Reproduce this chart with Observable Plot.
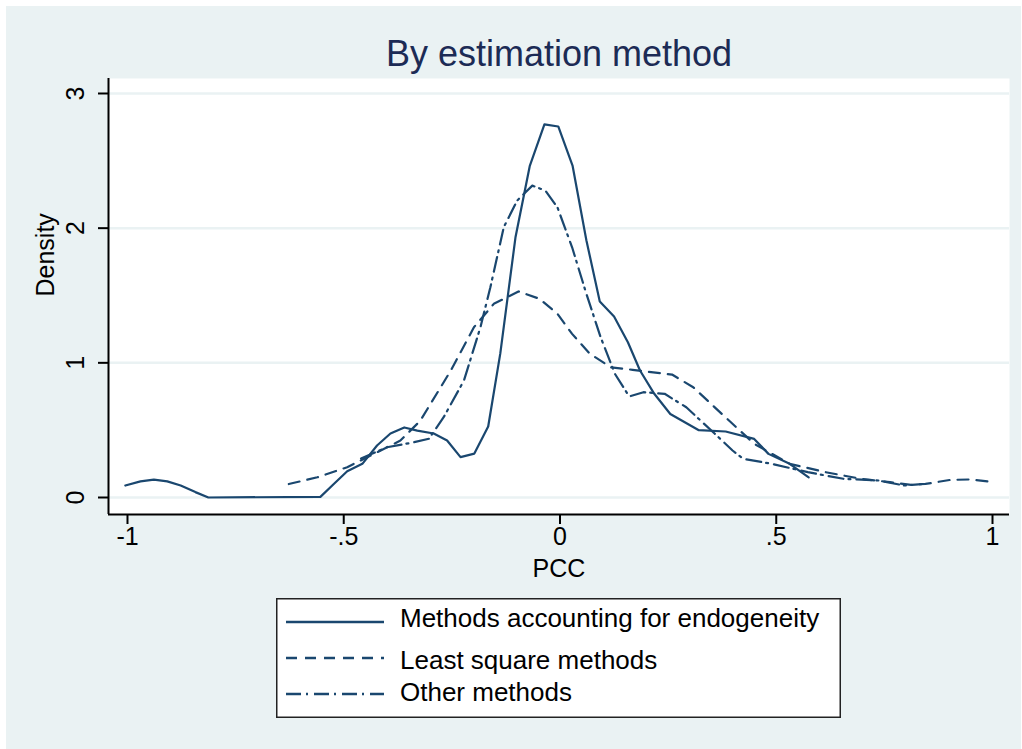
<!DOCTYPE html>
<html>
<head>
<meta charset="utf-8">
<script src="https://cdn.jsdelivr.net/npm/d3@7"></script>
<script src="https://cdn.jsdelivr.net/npm/@observablehq/plot@0.6"></script>
<style>
  html, body { margin: 0; padding: 0; background: #ffffff; }
  #page { position: relative; width: 1022px; height: 749px; overflow: hidden; font-family: "Liberation Sans", Arial, sans-serif; }
  #bg { position: absolute; left: 6px; top: 6px; width: 1015px; height: 743px; background: #eaf2f3; }
  #chart { position: absolute; left: 0; top: 0; }
  #legend { position: absolute; left: 276px; top: 598px; }
</style>
</head>
<body>
<div id="page">
  <div id="bg"></div>
  <div id="chart"></div>
  <div id="legend"></div>
</div>
<script>
// ---- Data ----
const seriesNames = ["Methods accounting for endogeneity", "Least square methods", "Other methods"];

const endoX = [-1.005,-0.97,-0.939,-0.908,-0.877,-0.843,-0.813,-0.554,-0.523,-0.492,-0.457,-0.423,-0.392,-0.36,-0.33,-0.292,-0.261,-0.23,-0.198,-0.166,-0.138,-0.103,-0.07,-0.036,-0.004,0.029,0.061,0.092,0.125,0.157,0.185,0.218,0.255,0.321,0.383,0.449,0.482,0.531,0.575];
const endoY = [0.089,0.12,0.133,0.12,0.089,0.04,0.0,0.005,0.1,0.195,0.25,0.386,0.475,0.52,0.497,0.475,0.423,0.3,0.326,0.527,1.07,1.93,2.46,2.77,2.755,2.465,1.91,1.455,1.344,1.153,0.943,0.77,0.62,0.50,0.49,0.435,0.324,0.25,0.15];

const lsX = [-0.627,-0.561,-0.492,-0.43,-0.369,-0.323,-0.253,-0.199,-0.153,-0.096,-0.047,-0.006,0.028,0.069,0.118,0.168,0.259,0.308,0.374,0.449,0.531,0.614,0.696,0.763,0.812,0.845,0.903,0.952,1.002];
const lsY = [0.1,0.15,0.225,0.324,0.423,0.57,0.94,1.264,1.438,1.53,1.475,1.364,1.215,1.067,0.967,0.948,0.913,0.819,0.621,0.399,0.25,0.188,0.139,0.114,0.094,0.101,0.131,0.134,0.114];

const otherX = [-0.46,-0.4,-0.338,-0.303,-0.269,-0.222,-0.184,-0.161,-0.13,-0.099,-0.064,-0.034,-0.006,0.028,0.061,0.094,0.127,0.16,0.193,0.242,0.292,0.358,0.399,0.424,0.49,0.573,0.655,0.738,0.796,0.836];
const otherY = [0.29,0.373,0.41,0.436,0.596,0.869,1.264,1.561,2.007,2.205,2.316,2.279,2.155,1.858,1.512,1.19,0.918,0.75,0.782,0.77,0.67,0.473,0.349,0.287,0.25,0.188,0.139,0.126,0.089,0.1];

const xTicks = [-1, -0.5, 0, 0.5, 1];
const xTickLabels = ["-1", "-.5", "0", ".5", "1"];
const yTicks = [0, 1, 2, 3];
const yTickLabels = ["0", "1", "2", "3"];

const titleText = "By estimation method";
const xLabel = "PCC";
const yLabel = "Density";

// ---- Styling ----
const lineColor = "#1a476f";
const dashes = ["none", "11,8", "15,5,2,6"];
const font = "'Liberation Sans', Arial, sans-serif";

const toRows = (xs, ys, s) => xs.map((x, i) => ({x, y: ys[i], series: s}));
const endo = toRows(endoX, endoY, seriesNames[0]);
const ls = toRows(lsX, lsY, seriesNames[1]);
const other = toRows(otherX, otherY, seriesNames[2]);

const xDomain = [-1.0439, 1.0393];
const yDomain = [-0.1262, 3.1113];

const chart = Plot.plot({
  width: 1022,
  height: 590,
  marginTop: 78,
  marginBottom: 76,
  marginLeft: 108,
  marginRight: 13,
  style: {background: "transparent", fontFamily: font, fontSize: "25px", color: "#000", overflow: "visible"},
  x: {domain: xDomain},
  y: {domain: yDomain},
  marks: [
    Plot.frame({fill: "white", stroke: null}),
    Plot.ruleY(yTicks, {stroke: "#eaf2f3", strokeWidth: 2.5}),
    Plot.line(endo, {x: "x", y: "y", stroke: lineColor, strokeWidth: 2.2, strokeDasharray: dashes[0]}),
    Plot.line(ls, {x: "x", y: "y", stroke: lineColor, strokeWidth: 2.2, strokeDasharray: dashes[1]}),
    Plot.line(other, {x: "x", y: "y", stroke: lineColor, strokeWidth: 2.2, strokeDasharray: dashes[2]}),
    Plot.ruleX([xDomain[0]], {stroke: "#000", strokeWidth: 2}),
    Plot.ruleY([yDomain[0]], {stroke: "#000", strokeWidth: 2}),
    Plot.axisX({ticks: xTicks, tickFormat: d => xTickLabels[xTicks.indexOf(d)], tickSize: 10, tickPadding: 3, strokeWidth: 2, label: null, fontSize: 25}),
    Plot.axisY({ticks: yTicks, tickFormat: d => yTickLabels[yTicks.indexOf(d)], tickSize: 10, tickPadding: 15, tickRotate: -90, strokeWidth: 2, label: null, fontSize: 25}),
    Plot.text([titleText], {frameAnchor: "top", dy: -13, lineAnchor: "bottom", fontSize: 36, fill: "#1c2b55"}),
    Plot.text([xLabel], {frameAnchor: "bottom", dy: 62, lineAnchor: "bottom", fontSize: 25, fill: "#000"}),
    Plot.text([yLabel], {frameAnchor: "left", dx: -55, rotate: -90, lineAnchor: "bottom", fontSize: 25, fill: "#000"})
  ]
});
document.getElementById("chart").appendChild(chart);

// ---- Legend ----
const lw = 565, lh = 120;
const svg = d3.select("#legend").append("svg").attr("width", lw).attr("height", lh)
  .style("font-family", font);
svg.append("rect").attr("x", 0.75).attr("y", 0.75).attr("width", lw - 1.5).attr("height", lh - 1.5)
  .attr("fill", "white").attr("stroke", "#222").attr("stroke-width", 1.5);
const rowLineY = [24, 60, 96];
const rowTextY = [29, 71, 103];
seriesNames.forEach((name, i) => {
  svg.append("line").attr("x1", 10).attr("x2", 108).attr("y1", rowLineY[i]).attr("y2", rowLineY[i])
    .attr("stroke", lineColor).attr("stroke-width", 2.5).attr("stroke-dasharray", dashes[i]);
  svg.append("text").attr("x", 124).attr("y", rowTextY[i]).attr("font-size", 26).attr("fill", "#000").text(name);
});
</script>
</body>
</html>
